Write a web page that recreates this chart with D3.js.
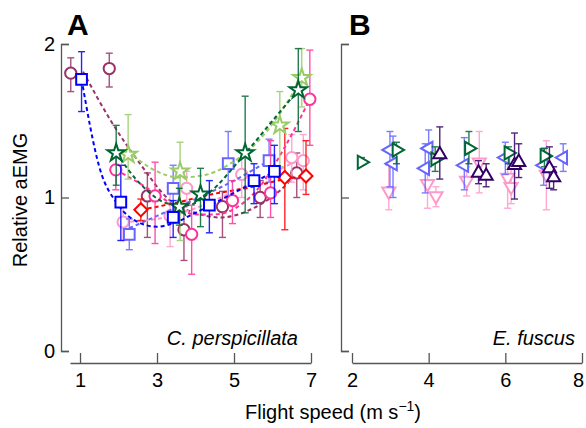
<!DOCTYPE html>
<html>
<head>
<meta charset="utf-8">
<script src="https://cdn.jsdelivr.net/npm/d3@7"></script>
<style>
	body { margin: 0; background: #fff; }
	svg text { font-family: 'Liberation Sans', Arial, sans-serif; }
</style>
</head>
<body>
<div id="chart"></div>
<script>
/*
*	Data: [speed, value, lower bar, upper bar]
*/
// panel A - C. perspicillata
const maroonA = [[0.76, 1.81, 1.69, 1.91], [1.76, 1.84, 1.72, 1.94], [2.75, 1.01, 0.74, 1.16], [3.70, 0.79, 0.59, 0.94], [4.70, 0.94, 0.74, 1.04], [5.68, 1.00, 0.87, 1.11], [6.63, 1.16, 1.00, 1.29]];
const blueA = [[1.04, 1.77, 1.56, 1.95], [2.06, 0.97, 0.72, 1.21], [3.42, 0.87, 0.74, 0.98], [4.36, 0.95, 0.77, 1.11], [5.52, 1.11, 0.96, 1.22], [6.05, 1.17, 0.96, 1.34]];
const lightBlueA = [[2.28, 0.76, 0.66, 0.86], [3.42, 1.06, 0.90, 1.21], [4.85, 1.22, 1.00, 1.43], [5.91, 1.24, 1.10, 1.38]];
const darkGreenA = [[1.94, 1.29, 1.08, 1.47], [3.58, 0.94, 0.82, 1.06], [4.13, 1.02, 0.81, 1.19], [5.29, 1.29, 0.90, 1.66], [6.67, 1.70, 1.43, 1.97]];
const lightGreenA = [[2.25, 1.28, 1.12, 1.54], [3.60, 1.17, 0.72, 1.36], [6.19, 1.47, 1.20, 1.69], [6.76, 1.78, 1.59, 1.97]];
const pinkA = [[1.93, 1.18, 1.05, 1.28], [2.95, 1.01, 0.70, 1.23], [3.90, 0.76, 0.50, 0.95], [4.96, 0.98, 0.83, 1.11], [5.95, 1.03, 0.87, 1.37], [6.97, 1.64, 1.34, 1.96]];
const lightPinkA = [[2.12, 0.84, 0.72, 0.95], [3.34, 0.88, 0.68, 1.07], [3.77, 1.06, 0.96, 1.17], [5.20, 1.15, 1.00, 1.30], [6.50, 1.26, 1.10, 1.41], [6.80, 1.24, 1.05, 1.41]];
const redA = [[2.58, 0.92, 0.85, 0.99], [6.32, 1.13, 0.79, 1.45], [6.87, 1.14, 1.02, 1.37]];

// dashed fit curves in panel A
const maroonFit = [[1.08, 1.82], [1.8, 1.5], [2.56, 1.22], [3.34, 0.98], [4, 0.9], [4.64, 0.87], [5.5, 0.93], [6.38, 1.09], [6.63, 1.16]];
const blueFit = [[1.04, 1.77], [1.5, 1.2], [2, 0.95], [2.5, 0.84], [3, 0.81], [3.5, 0.84], [4, 0.9], [5, 1.03], [6.05, 1.17]];
const lightBlueFit = [[2.28, 0.8], [3, 0.88], [4, 0.99], [5, 1.11], [5.91, 1.24]];
const darkGreenFit = [[1.94, 1.29], [2.6, 1.08], [3.3, 0.96], [3.8, 0.95], [4.3, 1.02], [5.3, 1.29], [6.2, 1.56], [6.67, 1.7]];
const lightGreenFit = [[2.25, 1.3], [3, 1.17], [3.6, 1.13], [4.3, 1.15], [4.9, 1.22], [5.6, 1.36], [6.2, 1.55], [6.76, 1.78]];
const pinkFit = [[1.93, 1.18], [2.5, 1.1], [3, 1.02], [3.5, 0.94], [4, 0.89], [4.5, 0.89], [5.1, 0.94], [5.7, 1.08], [6.3, 1.32], [6.97, 1.64]];
const lightPinkFit = [[2.12, 0.84], [3, 0.86], [4, 0.93], [5, 1.04], [6, 1.16], [6.8, 1.26]];
const redFit = [[2.58, 0.92], [3.4, 0.96], [4.4, 1.02], [5.5, 1.07], [6.32, 1.12], [6.87, 1.14]];

// panel B - E. fuscus
const darkGreenB = [[2.25, 1.23, 1.21, 1.26], [3.16, 1.31, 1.22, 1.36], [4.17, 1.25, 1.17, 1.33], [5.05, 1.32, 1.22, 1.43], [6.08, 1.29, 1.22, 1.33], [7.02, 1.27, 1.20, 1.32]];
const lightBlueB = [[2.99, 1.31, 1.07, 1.43], [3.07, 1.22, 1.00, 1.40], [3.91, 1.19, 1.03, 1.35], [4.00, 1.32, 1.20, 1.44], [4.93, 1.21, 1.05, 1.39], [6.00, 1.26, 1.15, 1.36], [7.00, 1.21, 1.08, 1.32], [7.51, 1.26, 1.17, 1.35]];
const lightPinkB = [[2.96, 1.04, 0.92, 1.21], [3.97, 1.09, 0.93, 1.18], [4.19, 1.01, 0.94, 1.07], [4.99, 1.11, 1.01, 1.20], [5.32, 1.23, 1.03, 1.43], [6.06, 1.13, 0.93, 1.30], [6.15, 1.07, 0.96, 1.20], [7.07, 1.15, 0.92, 1.37]];
const purpleB = [[4.29, 1.28, 1.12, 1.46], [5.30, 1.16, 1.09, 1.24], [5.50, 1.14, 1.07, 1.22], [6.24, 1.21, 0.99, 1.42], [6.35, 1.23, 1.13, 1.35], [7.15, 1.19, 1.06, 1.33], [7.26, 1.13, 1.05, 1.20]];

const ticksA = [1, 3, 5, 7];
const ticksB = [2, 4, 6, 8];
const ticksY = [0, 1, 2];

/*
*	Scales
*/
var W = 586, H = 428;
var y = d3.scaleLinear().domain([0, 2]).range([351, 44]);
var xA = d3.scaleLinear().domain([0.74, 7]).range([70, 311]);
var xB = d3.scaleLinear().domain([2, 8]).range([352, 582]);

var svg = d3.select('#chart').append('svg').attr('width', W).attr('height', H);

/*
*	Axes
*/
function yAxis(x0, labels) {
	var g = svg.append('g').attr('transform', 'translate(' + x0 + ',0)')
		.call(d3.axisLeft(y).tickValues(ticksY).tickSize(-8).tickSizeOuter(-8).tickPadding(6)
			.tickFormat(labels ? d3.format('d') : ''));
	styleAxis(g);
}

function xAxis(sc, ticks) {
	var g = svg.append('g').attr('transform', 'translate(0,363)')
		.call(d3.axisBottom(sc).tickValues(ticks).tickSize(-10).tickSizeOuter(0).tickPadding(10).tickFormat(d3.format('d')));
	styleAxis(g);
	// last label sits on the page edge, nudge it in a bit
	g.selectAll('.tick text').filter(function (d) { return d === 8; }).attr('dx', -4);
}

function styleAxis(g) {
	g.select('.domain').attr('stroke', '#555').attr('stroke-width', 1.3);
	g.selectAll('.tick line').attr('stroke', '#555').attr('stroke-width', 1.3);
	g.selectAll('.tick text').attr('fill', '#000').style('font-size', '20px').style('font-family', "'Liberation Sans', Arial, sans-serif");
}

yAxis(61, true);
yAxis(341, false);
xAxis(xA, ticksA);
xAxis(xB, ticksB);

/*
*	Marks
*/
var fitLine = function (sc) {
	return d3.line()
		.x(function (d) { return sc(d[0]); })
		.y(function (d) { return y(d[1]); })
		.curve(d3.curveMonotoneX);
};

function drawSeries(sc, pts, fit, color, shape, size, rot) {
	var g = svg.append('g');
	if (fit) {
		g.append('path')
			.datum(fit)
			.attr('d', fitLine(sc))
			.attr('fill', 'none')
			.attr('stroke', color)
			.attr('stroke-width', 2)
			.attr('stroke-dasharray', '4,3');
	}
	var bars = g.selectAll('.bar').data(pts).enter().append('g').attr('class', 'bar')
		.attr('stroke', color).attr('stroke-width', 1.4).attr('opacity', 0.85);
	bars.append('line')
		.attr('x1', function (d) { return sc(d[0]); })
		.attr('x2', function (d) { return sc(d[0]); })
		.attr('y1', function (d) { return y(d[2]); })
		.attr('y2', function (d) { return y(d[3]); });
	[2, 3].forEach(function (k) {
		bars.append('line')
			.attr('x1', function (d) { return sc(d[0]) - 3.5; })
			.attr('x2', function (d) { return sc(d[0]) + 3.5; })
			.attr('y1', function (d) { return y(d[k]); })
			.attr('y2', function (d) { return y(d[k]); });
	});
	g.selectAll('.pt').data(pts).enter().append('path').attr('class', 'pt')
		.attr('d', d3.symbol().type(shape).size(size))
		.attr('transform', function (d) { return 'translate(' + sc(d[0]) + ',' + y(d[1]) + ') rotate(' + rot + ')'; })
		.attr('fill', 'white')
		.attr('stroke', color)
		.attr('stroke-width', 2);
}

// panel A
drawSeries(xA, maroonA, maroonFit, '#993366', d3.symbolCircle, 100, 0);
drawSeries(xA, lightPinkA, lightPinkFit, '#FF99CC', d3.symbolCircle, 100, 0);
drawSeries(xA, lightBlueA, lightBlueFit, '#6666FF', d3.symbolSquare, 115, 0);
drawSeries(xA, redA, redFit, '#FF0000', d3.symbolSquare, 85, 45);
drawSeries(xA, pinkA, pinkFit, '#FF3399', d3.symbolCircle, 100, 0);
drawSeries(xA, lightGreenA, lightGreenFit, '#99CC66', d3.symbolStar, 95, 0);
drawSeries(xA, darkGreenA, darkGreenFit, '#006633', d3.symbolStar, 95, 0);
drawSeries(xA, blueA, blueFit, '#0000FF', d3.symbolSquare, 115, 0);

// panel B
drawSeries(xB, lightPinkB, null, '#FF99CC', d3.symbolTriangle, 75, 180);
drawSeries(xB, lightBlueB, null, '#6666FF', d3.symbolTriangle, 75, -90);
drawSeries(xB, darkGreenB, null, '#006633', d3.symbolTriangle, 75, 90);
drawSeries(xB, purpleB, null, '#330066', d3.symbolTriangle, 75, 0);

/*
*	Labels
*/
svg.append('text').attr('x', 67).attr('y', 35).style('font-size', '30px').style('font-weight', 'bold').text('A');
svg.append('text').attr('x', 349).attr('y', 35).style('font-size', '30px').style('font-weight', 'bold').text('B');

svg.append('text').attr('x', 298).attr('y', 345).attr('text-anchor', 'end')
	.style('font-size', '20px').style('font-style', 'italic').text('C. perspicillata');
svg.append('text').attr('x', 575).attr('y', 345).attr('text-anchor', 'end')
	.style('font-size', '20px').style('font-style', 'italic').text('E. fuscus');

svg.append('text')
	.attr('transform', 'translate(27,200) rotate(-90)')
	.attr('text-anchor', 'middle')
	.style('font-size', '20px')
	.text('Relative aEMG');

var xt = svg.append('text').attr('x', 333).attr('y', 419).attr('text-anchor', 'middle').style('font-size', '20px');
xt.append('tspan').text('Flight speed (m s');
xt.append('tspan').attr('dy', -8).style('font-size', '14px').text('\u22121');
xt.append('tspan').attr('dy', 8).text(')');
</script>
</body>
</html>
